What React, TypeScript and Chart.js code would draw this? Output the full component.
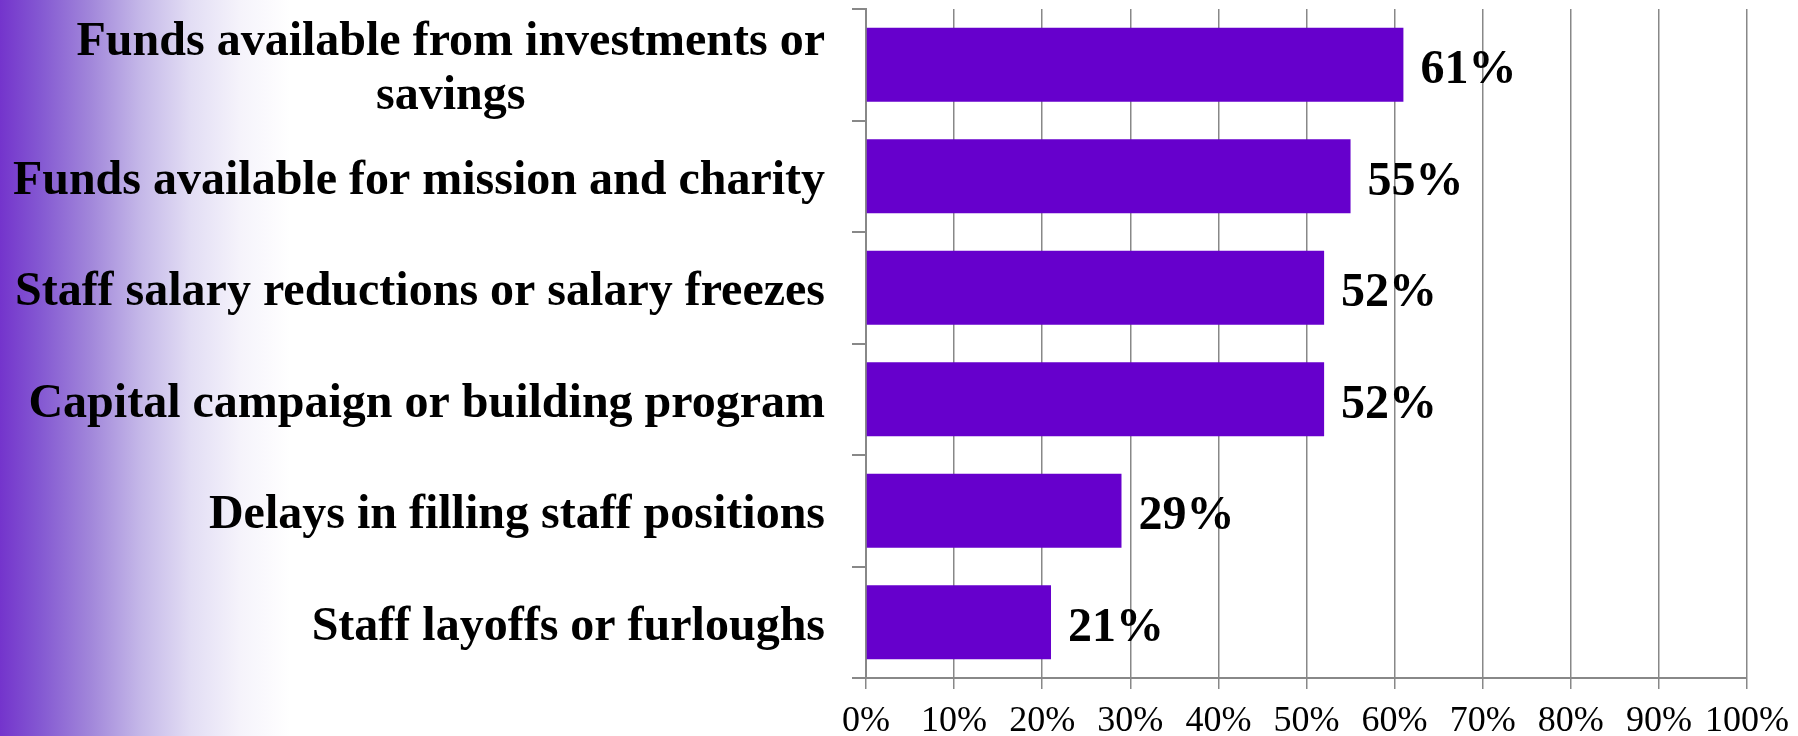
import React, { useEffect, useRef } from "react";
import { Chart, registerables } from "chart.js";

Chart.register(...registerables);

const categories: (string | string[])[] = [
  ["Funds available from investments or", "savings"],
  "Funds available for mission and charity",
  "Staff salary reductions or salary freezes",
  "Capital campaign or building program",
  "Delays in filling staff positions",
  "Staff layoffs or furloughs",
];
const values: number[] = [61, 55, 52, 52, 29, 21];
const xTicks: number[] = [0, 10, 20, 30, 40, 50, 60, 70, 80, 90, 100];

const SERIF = '"Liberation Serif", "Times New Roman", Times, serif';
const GRAY = "#888888";
const Y_TICK_LEN = 14;
const Y_LABEL_PAD = 27;

const categoryLabelPlugin = {
  id: "categoryLabels",
  afterDraw(chart: any) {
    const ys = chart.scales.y;
    const ctx = chart.ctx;
    ctx.save();
    ctx.font = `bold 48px ${SERIF}`;
    ctx.fillStyle = "#000000";
    ctx.textBaseline = "middle";
    ctx.textAlign = "center";
    const rightX = ys.right - Y_TICK_LEN - Y_LABEL_PAD;
    const lineH = 54;
    categories.forEach((label, i) => {
      const lines = Array.isArray(label) ? label : [label];
      const blockW = Math.max(...lines.map((l) => ctx.measureText(l).width));
      const cx = rightX - blockW / 2;
      const y = ys.getPixelForTick(i) + 5;
      lines.forEach((line, j) => {
        ctx.fillText(line, cx, y + (j - (lines.length - 1) / 2) * lineH);
      });
    });
    ctx.restore();
  },
};

const valueLabelPlugin = {
  id: "valueLabels",
  afterDatasetsDraw(chart: any) {
    const ctx = chart.ctx;
    const meta = chart.getDatasetMeta(0);
    ctx.save();
    ctx.font = `bold 48px ${SERIF}`;
    ctx.fillStyle = "#000000";
    ctx.textBaseline = "middle";
    ctx.textAlign = "left";
    meta.data.forEach((bar: any, i: number) => {
      ctx.fillText(values[i] + "%", bar.x + 17, bar.y + 6);
    });
    ctx.restore();
  },
};

export default function App() {
  const ref = useRef<HTMLCanvasElement | null>(null);

  useEffect(() => {
    if (!ref.current) return;
    const chart = new Chart(ref.current, {
      type: "bar",
      data: {
        labels: categories.map((c) => (Array.isArray(c) ? c.join(" ") : c)),
        datasets: [
          {
            data: values,
            backgroundColor: "#6600cc",
            borderWidth: 0,
            barPercentage: 0.664,
            categoryPercentage: 1,
          },
        ],
      },
      options: {
        indexAxis: "y",
        animation: false,
        responsive: false,
        devicePixelRatio: 1,
        layout: { padding: { top: 9, right: 51, bottom: 0, left: 0 } },
        plugins: {
          legend: { display: false },
          tooltip: { enabled: false },
          title: { display: false },
        },
        scales: {
          x: {
            type: "linear",
            min: 0,
            max: 100,
            afterBuildTicks: (scale: any) => {
              scale.ticks = xTicks.map((v) => ({ value: v }));
            },
            ticks: {
              callback: (v: any) => v + "%",
              color: "#000000",
              font: { family: SERIF, size: 36, lineHeight: 1.2 },
              padding: 11,
              maxRotation: 0,
            },
            grid: {
              color: GRAY,
              lineWidth: 1.5,
              tickLength: 11,
              drawTicks: true,
            },
            border: { color: GRAY, width: 2 },
            afterFit: (scale: any) => {
              scale.height = 58;
              scale.paddingLeft = 0;
              scale.paddingRight = 0;
            },
          },
          y: {
            type: "category",
            offset: true,
            ticks: { display: false },
            grid: {
              offset: true,
              drawOnChartArea: false,
              drawTicks: true,
              tickLength: Y_TICK_LEN,
              color: GRAY,
              lineWidth: 2,
            },
            border: { color: GRAY, width: 2 },
            afterFit: (scale: any) => {
              scale.width = 866;
              scale.paddingTop = 0;
              scale.paddingBottom = 0;
            },
          },
        },
      },
      plugins: [valueLabelPlugin, categoryLabelPlugin],
    } as any);
    return () => chart.destroy();
  }, []);

  return (
    <div
      style={{
        position: "fixed",
        left: 0,
        top: 0,
        width: 1798,
        height: 736,
        background:
          "linear-gradient(to right, #7434cc 0px, #8458d2 40px, #a186da 90px, #c4b7e8 140px, #e2ddf4 190px, #f5f3fb 240px, #ffffff 290px)",
      }}
    >
      <canvas ref={ref} width={1798} height={736} style={{ display: "block" }} />
    </div>
  );
}
